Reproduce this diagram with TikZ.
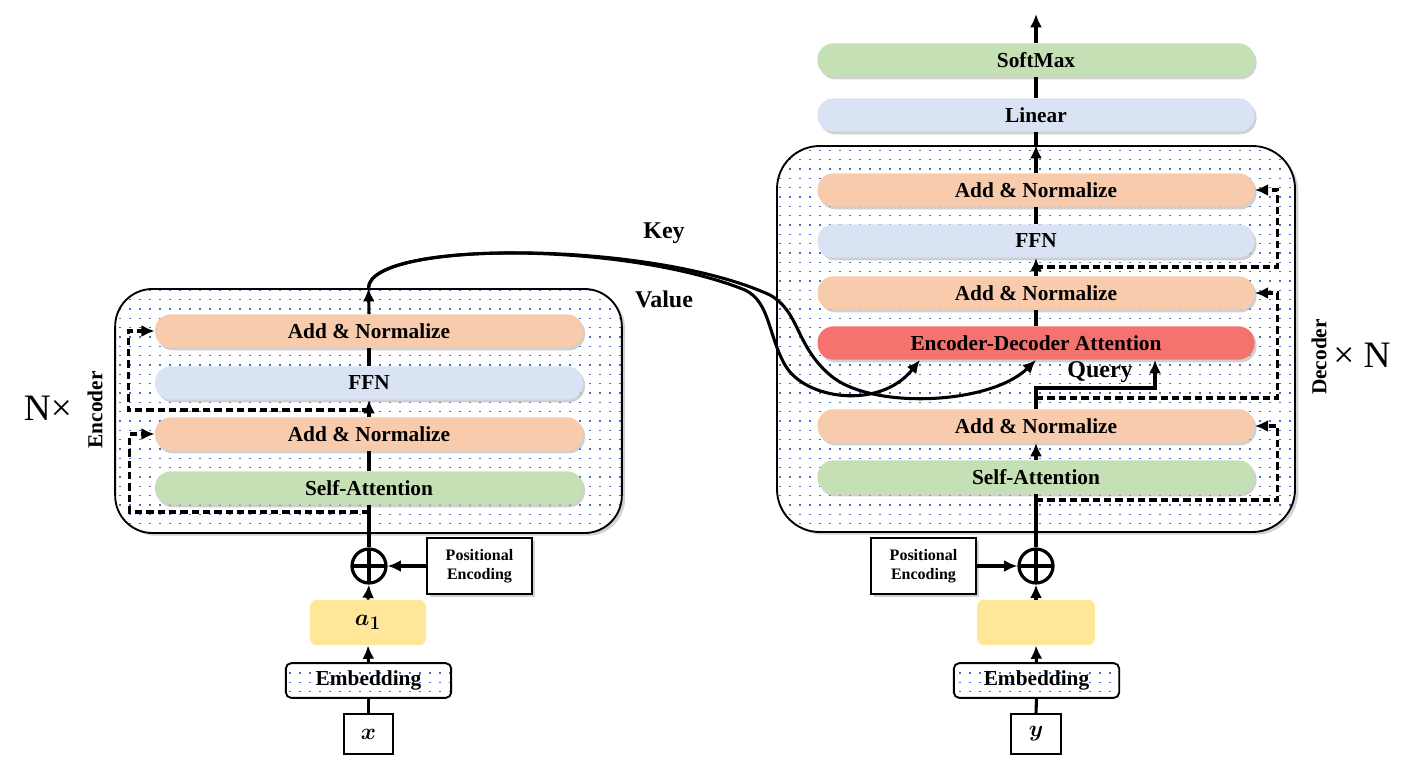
\documentclass[tikz,border=0pt]{standalone}
\usepackage{fontspec}
\setmainfont{Liberation Serif}
\usepackage{amsmath}
\usepackage{bm}
\usetikzlibrary{arrows.meta, shadows, patterns}
\definecolor{addnorm}{HTML}{F8CBAD}
\definecolor{ffnblue}{HTML}{DAE3F3}
\definecolor{attgreen}{HTML}{C5E0B4}
\definecolor{attred}{HTML}{F4736F}
\definecolor{vecyellow}{HTML}{FFE699}
\definecolor{dotblue}{HTML}{4472C4}
\pgfdeclarepatternformonly{sparsedots}{\pgfpoint{-1pt}{-1pt}}{\pgfpoint{1pt}{1pt}}{\pgfpoint{7.5pt}{7pt}}{\pgfpathrectangle{\pgfpoint{-0.6pt}{-0.6pt}}{\pgfpoint{1.2pt}{1.2pt}}\pgfusepath{fill}}
\tikzset{
    layer/.style = {rectangle, rounded corners=12pt, minimum height=25pt, inner sep=0pt, font=\bfseries\fontsize{16}{18}\selectfont, drop shadow={shadow xshift=1.5pt, shadow yshift=-2pt, fill=black!30, opacity=0.6}},
    enc-layer/.style = {layer, minimum width=321pt},
    dec-layer/.style = {layer, minimum width=327.75pt},
    dotted-box/.style = {draw, line width=1.4pt, preaction={fill=white}, pattern=sparsedots, pattern color=dotblue},
    box-shadow/.style = {drop shadow={shadow xshift=2.5pt, shadow yshift=-2pt, fill=black!35, opacity=0.5}},
    pe-box/.style = {draw, line width=1.4pt, fill=white, align=center, minimum width=78.75pt, minimum height=42pt, inner sep=0pt, font=\bfseries\fontsize{12}{14.5}\selectfont, box-shadow},
    vec-box/.style = {fill=vecyellow, rounded corners=5pt, minimum height=34pt, font=\fontsize{19}{21}\selectfont},
    emb-box/.style = {dotted-box, rounded corners=4pt, minimum width=124pt, minimum height=26pt, inner sep=0pt, font=\bfseries\fontsize{16}{18}\selectfont},
    input-box/.style = {draw, line width=1.4pt, minimum width=37pt, minimum height=30pt, font=\fontsize{18}{20}\selectfont},
    plus/.style = {circle, draw, line width=2.4pt, minimum size=25.5pt, inner sep=0pt, path picture={\draw[line width=2.4pt] (path picture bounding box.north) -- (path picture bounding box.south) (path picture bounding box.west) -- (path picture bounding box.east);}},
    conn/.style = {line width=2.3pt},
    arrowed/.style = {conn, -{Latex[length=10pt, width=9pt]}},
    residual/.style = {arrowed, dash pattern=on 5.5pt off 3pt},
    side-label/.style = {font=\bfseries\fontsize{18}{20}\selectfont},
    stack-label/.style = {rotate=90, font=\bfseries\fontsize{16}{18}\selectfont},
    times-label/.style = {font=\fontsize{28}{30}\selectfont},
}

\begin{document}
\begin{tikzpicture}[x=0.75pt, y=-0.75pt]
\useasboundingbox (0,0) rectangle (1419,757);

% encoder
\node[box-shadow, dotted-box, rounded corners=28pt, minimum width=380pt, minimum height=183pt] (encBox) at (368.5,411) {};
\node[enc-layer, fill=attgreen] (encSA) at (369,488) {Self-Attention};
\node[enc-layer, fill=addnorm] (encAN2) at (369,434) {Add \& Normalize};
\node[enc-layer, fill=ffnblue] (encFFN) at (369,383) {FFN};
\node[enc-layer, fill=addnorm] (encAN1) at (369,331) {Add \& Normalize};
\node[plus] (encPlus) at (369,566) {};
\node[pe-box] (encPE) at (479.5,566) {Positional\\Encoding};
\node[vec-box, minimum width=87pt] (encVec) at (368,622.5) {$\bm{a}_{\bm{1}}$};
\node[emb-box] (encEmb) at (368.5,680.5) {Embedding};
\node[input-box] (xin) at (368.5,734) {$\bm{x}$};
\node[stack-label] (encLabel) at (95,410) {Encoder};
\node[times-label] (encN) at (48,408) {N×};

% decoder
\node[box-shadow, dotted-box, rounded corners=32pt, minimum width=388.5pt, minimum height=289.5pt] (decBox) at (1036,339) {};
\node[dec-layer, fill=attgreen] (decSA) at (1036,477) {Self-Attention};
\node[dec-layer, fill=addnorm] (decAN1) at (1036,426) {Add \& Normalize};
\node[dec-layer, fill=attred] (decEDA) at (1036,343) {Encoder-Decoder Attention};
\node[dec-layer, fill=addnorm] (decAN2) at (1036,293) {Add \& Normalize};
\node[dec-layer, fill=ffnblue] (decFFN) at (1036,241) {FFN};
\node[dec-layer, fill=addnorm] (decAN3) at (1036,190) {Add \& Normalize};
\node[dec-layer, fill=ffnblue] (linear) at (1036,115) {Linear};
\node[dec-layer, fill=attgreen] (softmax) at (1036,60) {SoftMax};
\node[plus] (decPlus) at (1036,566) {};
\node[pe-box] (decPE) at (923.5,566) {Positional\\Encoding};
\node[vec-box, minimum width=88.5pt] (decVec) at (1036,622.5) {};
\node[emb-box] (decEmb) at (1036.5,680.5) {Embedding};
\node[input-box] (yin) at (1036,734) {$\bm{y}$};
\node[stack-label] (decLabel) at (1319,357) {Decoder};
\node[times-label] (decN) at (1362,355) {× N};
\coordinate (decOut) at (1036,14);

% labels
\node[side-label] (keyLabel) at (664,233) {Key};
\node[side-label] (valueLabel) at (664,299) {Value};
\node[side-label] (queryLabel) at (1100,372) {Query};

% encoder flow
\draw[conn] (xin.north) -- (encEmb.south);
\draw[arrowed] (encEmb.north) -- (encVec.south);
\draw[arrowed] (encVec.north) -- (encPlus.south);
\draw[arrowed] (encPE.west) -- (encPlus.east);
\draw[conn] (encPlus.north) -- (encSA.south);
\draw[conn] (encSA.north) -- (encAN2.south);
\draw[arrowed] (encAN2.north) -- (encFFN.south);
\draw[conn] (encFFN.north) -- (encAN1.south);
\draw[arrowed] (encAN1.north) -- (encBox.north);
\coordinate (encR1) at (369,512);
\coordinate (encR2) at (369,410);
\draw[residual] (encR1) -| ([xshift=-18.75pt]encAN2.west) -- (encAN2.west);
\draw[residual] (encR2) -| ([xshift=-20pt]encAN1.west) -- (encAN1.west);

% decoder flow
\draw[conn] (yin.north) -- (decEmb.south);
\draw[arrowed] (decEmb.north) -- (decVec.south);
\draw[arrowed] (decVec.north) -- (decPlus.south);
\draw[arrowed] (decPE.east) -- (decPlus.west);
\draw[conn] (decPlus.north) -- (decSA.south);
\draw[arrowed] (decSA.north) -- (decAN1.south);
\coordinate (decQ) at (1036,388);
\draw[arrowed] (decAN1.north) -- (decQ) -| ([xshift=89.25pt]decEDA.south);
\draw[conn] (decEDA.north) -- (decAN2.south);
\draw[arrowed] (decAN2.north) -- (decFFN.south);
\draw[conn] (decFFN.north) -- (decAN3.south);
\draw[arrowed] (decAN3.north) -- (decBox.north);
\draw[conn] (decBox.north) -- (linear.south);
\draw[conn] (linear.north) -- (softmax.south);
\draw[arrowed] (softmax.north) -- (decOut);
\coordinate (decR1) at (1036,500);
\coordinate (decR2) at (1036,398);
\coordinate (decR3) at (1036,267);
\draw[residual] (decR1) -| ([xshift=17.25pt]decAN1.east) -- (decAN1.east);
\draw[residual] (decR2) -| ([xshift=17.25pt]decAN2.east) -- (decAN2.east);
\draw[residual] (decR3) -| ([xshift=17.25pt]decAN3.east) -- (decAN3.east);

% key and value
\draw[arrowed] (encBox.north) .. controls (369,242) and (620,240) .. (745,290) .. controls (770,302) and (768,335) .. (785,365) .. controls (805,400) and (880,410) .. ([xshift=-87pt]decEDA.south);
\draw[arrowed] (encBox.north) .. controls (369,240) and (650,240) .. (770,295) .. controls (800,312) and (795,345) .. (830,375) .. controls (870,410) and (990,405) .. (decEDA.south);
\end{tikzpicture}
\end{document}
